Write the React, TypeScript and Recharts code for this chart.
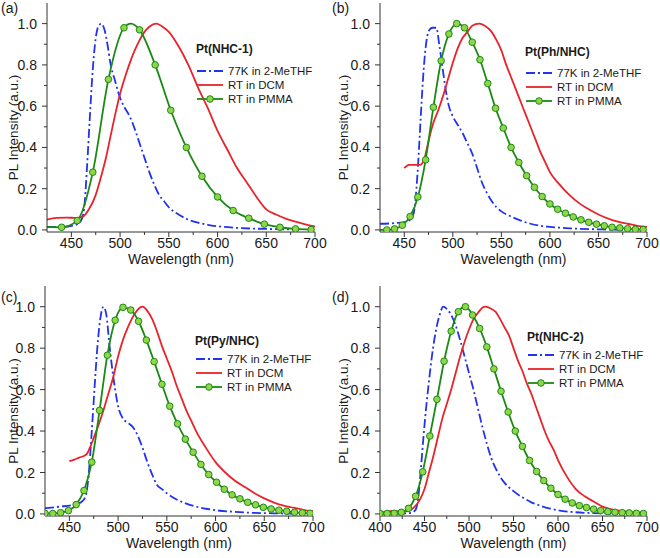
import React from 'react';
import { LineChart, Line, XAxis, YAxis } from 'recharts';

type Pt = [number, number];
type Row = { x: number; y: number; m?: boolean };

// (a) Pt(NHC-1)
const aLowT: Pt[] = [
  [425, 0.015], [440, 0.015], [450, 0.02], [456, 0.028], [460, 0.045], [463, 0.1], [466, 0.3],
  [469, 0.55], [472, 0.78], [475, 0.93], [478, 0.99], [481, 1.0], [484, 0.97], [487, 0.9],
  [490, 0.81], [495, 0.72], [500, 0.64], [505, 0.59], [510, 0.55], [515, 0.49], [520, 0.42],
  [525, 0.35], [530, 0.28], [535, 0.22], [540, 0.17], [545, 0.14], [550, 0.11], [560, 0.075],
  [570, 0.05], [580, 0.035], [590, 0.025], [600, 0.018], [620, 0.01], [640, 0.006], [660, 0.004], [680, 0.002],
];
const aDcm: Pt[] = [
  [425, 0.05], [435, 0.058], [445, 0.06], [455, 0.058], [462, 0.065], [468, 0.1], [475, 0.17],
  [480, 0.25], [485, 0.34], [490, 0.45], [495, 0.56], [500, 0.66], [505, 0.74], [510, 0.81],
  [515, 0.87], [520, 0.92], [525, 0.96], [530, 0.985], [537, 1.0], [545, 0.98], [550, 0.96],
  [560, 0.89], [570, 0.8], [580, 0.69], [590, 0.59], [600, 0.48], [610, 0.39], [620, 0.3],
  [630, 0.23], [640, 0.16], [650, 0.1], [660, 0.075], [670, 0.055], [680, 0.04], [690, 0.027], [700, 0.017],
];
const aPmmaMarks: Pt[] = [
  [440, 0.013], [456, 0.045], [472, 0.28], [488, 0.73], [504, 0.98], [520, 0.97], [536, 0.8],
  [552, 0.58], [568, 0.4], [584, 0.26], [600, 0.16], [616, 0.094], [632, 0.057], [648, 0.028],
  [664, 0.013], [680, 0.005], [696, 0.002],
];
const aPmmaExtra: Pt[] = [[425, 0.015], [511, 1.0]];

// (b) Pt(Ph/NHC)
const bLowT: Pt[] = [
  [425, 0.03], [440, 0.033], [452, 0.04], [458, 0.06], [461, 0.12], [464, 0.3], [467, 0.55],
  [470, 0.78], [473, 0.92], [476, 0.97], [479, 0.98], [483, 0.98], [486, 0.9], [489, 0.8],
  [492, 0.7], [496, 0.6], [500, 0.55], [505, 0.51], [510, 0.47], [515, 0.42], [520, 0.37],
  [525, 0.3], [530, 0.23], [535, 0.18], [540, 0.14], [545, 0.11], [550, 0.09], [560, 0.065],
  [570, 0.045], [580, 0.03], [590, 0.02], [600, 0.015], [620, 0.008], [640, 0.004], [660, 0.002], [680, 0],
];
const bDcm: Pt[] = [
  [450, 0.3], [455, 0.315], [460, 0.315], [465, 0.315], [468, 0.32], [471, 0.35], [474, 0.41],
  [477, 0.47], [480, 0.52], [485, 0.58], [490, 0.65], [495, 0.73], [500, 0.81], [505, 0.88],
  [510, 0.93], [515, 0.96], [520, 0.99], [527, 1.0], [533, 0.99], [540, 0.96], [545, 0.92],
  [550, 0.87], [555, 0.8], [560, 0.74], [565, 0.68], [570, 0.62], [575, 0.56], [580, 0.5],
  [585, 0.44], [590, 0.38], [595, 0.33], [600, 0.28], [610, 0.22], [620, 0.17], [630, 0.13],
  [640, 0.1], [650, 0.075], [660, 0.055], [670, 0.04], [680, 0.03], [690, 0.02], [700, 0.015],
];
const bPmmaMarks: Pt[] = [
  [432, 0.0], [440, 0.005], [448, 0.023], [456, 0.065], [464, 0.16], [472, 0.34], [480, 0.595],
  [488, 0.82], [496, 0.95], [504, 1.0], [512, 0.98], [520, 0.91], [528, 0.825], [536, 0.71],
  [544, 0.59], [552, 0.494], [560, 0.4], [568, 0.327], [576, 0.263], [584, 0.207], [592, 0.162],
  [600, 0.126], [608, 0.1], [616, 0.081], [624, 0.063], [632, 0.049], [640, 0.037], [648, 0.028],
  [656, 0.02], [664, 0.013], [672, 0.01], [680, 0.006], [688, 0.003], [696, 0.002],
];
const bPmmaExtra: Pt[] = [[425, 0.0]];

// (c) Pt(Py/NHC)
const cLowT: Pt[] = [
  [425, 0.028], [440, 0.035], [455, 0.045], [463, 0.06], [467, 0.09], [470, 0.2], [473, 0.4],
  [476, 0.62], [479, 0.82], [482, 0.95], [485, 1.0], [488, 0.96], [491, 0.82], [494, 0.7],
  [497, 0.6], [500, 0.52], [505, 0.46], [510, 0.44], [515, 0.42], [520, 0.38], [525, 0.32],
  [530, 0.25], [535, 0.19], [540, 0.14], [545, 0.12], [550, 0.1], [560, 0.07], [570, 0.05],
  [580, 0.035], [590, 0.025], [600, 0.018], [620, 0.01], [640, 0.005], [660, 0.003], [680, 0.001],
];
const cDcm: Pt[] = [
  [450, 0.255], [455, 0.262], [460, 0.272], [465, 0.28], [468, 0.29], [472, 0.33], [476, 0.38],
  [480, 0.43], [485, 0.5], [490, 0.58], [495, 0.66], [500, 0.76], [505, 0.84], [510, 0.9],
  [515, 0.95], [520, 0.985], [525, 1.0], [530, 0.98], [535, 0.94], [540, 0.88], [545, 0.81],
  [550, 0.75], [555, 0.69], [560, 0.62], [565, 0.56], [570, 0.5], [575, 0.45], [580, 0.4],
  [590, 0.32], [600, 0.25], [610, 0.2], [620, 0.16], [630, 0.13], [640, 0.1], [650, 0.075],
  [660, 0.055], [670, 0.04], [680, 0.03], [690, 0.02], [700, 0.013],
];
const cPmmaMarks: Pt[] = [
  [425, 0.003], [433, 0.002], [441, 0.006], [449, 0.016], [457, 0.045], [465, 0.113], [473, 0.25],
  [481, 0.5], [489, 0.766], [497, 0.935], [505, 0.997], [513, 0.984], [521, 0.93], [529, 0.839],
  [537, 0.735], [545, 0.626], [553, 0.52], [561, 0.435], [569, 0.361], [577, 0.298], [585, 0.239],
  [593, 0.19], [601, 0.153], [609, 0.119], [617, 0.092], [625, 0.073], [633, 0.056], [641, 0.044],
  [649, 0.032], [657, 0.024], [665, 0.018], [673, 0.013], [681, 0.008], [689, 0.005], [697, 0.003],
];

// (d) Pt(NHC-2)
const dLowT: Pt[] = [
  [400, 0.002], [420, 0.002], [435, 0.005], [440, 0.02], [443, 0.08], [446, 0.22], [449, 0.38],
  [452, 0.52], [455, 0.64], [458, 0.75], [461, 0.84], [464, 0.91], [467, 0.96], [471, 1.0],
  [475, 0.99], [480, 0.96], [485, 0.91], [490, 0.84], [495, 0.76], [500, 0.68], [505, 0.6],
  [510, 0.51], [515, 0.42], [520, 0.34], [525, 0.27], [530, 0.22], [535, 0.18], [540, 0.15],
  [550, 0.11], [560, 0.08], [570, 0.056], [580, 0.04], [590, 0.027], [600, 0.018], [620, 0.008],
  [640, 0.004], [660, 0.002],
];
const dDcm: Pt[] = [
  [400, 0.005], [410, 0.013], [418, 0.015], [425, 0.01], [432, 0.015], [438, 0.03], [445, 0.07],
  [450, 0.12], [455, 0.2], [460, 0.28], [465, 0.37], [470, 0.46], [475, 0.53], [480, 0.6],
  [485, 0.68], [490, 0.76], [495, 0.83], [500, 0.89], [505, 0.94], [510, 0.97], [515, 0.995],
  [518, 1.0], [525, 0.99], [530, 0.975], [535, 0.94], [540, 0.9], [545, 0.86], [550, 0.8],
  [555, 0.74], [560, 0.69], [565, 0.63], [570, 0.58], [575, 0.52], [580, 0.46], [585, 0.4],
  [590, 0.35], [595, 0.31], [600, 0.26], [610, 0.18], [620, 0.12], [630, 0.085], [640, 0.06],
  [650, 0.035], [660, 0.022], [670, 0.015], [680, 0.01], [690, 0.007], [700, 0.005],
];
const dPmmaMarks: Pt[] = [
  [400, 0.002], [408, 0.002], [416, 0.003], [424, 0.008], [432, 0.027], [440, 0.085], [448, 0.203],
  [456, 0.376], [464, 0.553], [472, 0.737], [480, 0.882], [488, 0.976], [496, 1.0], [504, 0.96],
  [512, 0.895], [520, 0.806], [528, 0.7], [536, 0.592], [544, 0.492], [552, 0.4], [560, 0.326],
  [568, 0.258], [576, 0.205], [584, 0.161], [592, 0.124], [600, 0.094], [608, 0.071], [616, 0.053],
  [624, 0.04], [632, 0.031], [640, 0.023], [648, 0.016], [656, 0.011], [664, 0.008], [672, 0.006],
  [680, 0.005], [688, 0.003], [696, 0.002],
];

const SERIES_NAMES = ['77K in 2-MeTHF', 'RT in DCM', 'RT in PMMA'];
const Y_TICKS = [0, 0.1, 0.2, 0.3, 0.4, 0.5, 0.6, 0.7, 0.8, 0.9, 1.0];
const X_TICKS_425 = [450, 475, 500, 525, 550, 575, 600, 625, 650, 675, 700];
const X_TICKS_400 = [400, 425, 450, 475, 500, 525, 550, 575, 600, 625, 650, 675, 700];

const BLUE = '#2233ee';
const RED = '#e8232a';
const GREEN = '#1b8a14';
const MARK_FILL = '#8fd64a';
const AXIS = '#333';
const TEXT = '#1a1a1a';
const DASH = '9 3 2 3';
const LW = 1.8;

const rows = (pts: Pt[]): Row[] => pts.map(([x, y]) => ({ x, y }));
const pmmaRows = (marks: Pt[], extra: Pt[] = []): Row[] =>
  [...marks.map(([x, y]) => ({ x, y, m: true })), ...extra.map(([x, y]) => ({ x, y, m: false }))]
    .sort((a, b) => a.x - b.x);

const renderXTick = (p: any) => {
  const { x, y, payload } = p;
  const v = payload.value as number;
  const major = v % 50 === 0;
  const ay = y - 8; // tickSize 5 + tickMargin 3
  return (
    <g>
      <line x1={x} x2={x} y1={ay} y2={ay + (major ? 5 : 3)} stroke={AXIS} />
      {major && (
        <text x={x} y={ay + 16} textAnchor="middle" fontSize={14} fill={TEXT}>{v}</text>
      )}
    </g>
  );
};

const renderYTick = (p: any) => {
  const { x, y, payload } = p;
  const v = payload.value as number;
  const major = Math.round(v * 10) % 2 === 0;
  const ax = x + 8;
  return (
    <g>
      <line x1={ax} x2={ax - (major ? 5 : 3)} y1={y} y2={y} stroke={AXIS} />
      {major && (
        <text x={ax - 10} y={y} dy="0.36em" textAnchor="end" fontSize={14} fill={TEXT}>{v.toFixed(1)}</text>
      )}
    </g>
  );
};

// axis titles, placed in the chart's own pixel space
const xTitle = (cx: number, y: number) => () => (
  <text x={cx} y={y} textAnchor="middle" fontSize={14} fill={TEXT}>Wavelength (nm)</text>
);

const yTitle = (cx: number) => (props: any) => {
  const vb = props.viewBox;
  const y = vb.y + vb.height / 2 + 10;
  return (
    <text x={cx} y={y} transform={`rotate(-90, ${cx}, ${y})`} textAnchor="middle" dy="0.35em" fontSize={13.5} fill={TEXT}>
      PL Intensity (a.u.)
    </text>
  );
};

const markerDot = (p: any) => {
  const { cx, cy, payload, index } = p;
  if (!payload || !payload.m) return <g key={`n${index}`} />;
  return <circle key={`m${index}`} cx={cx} cy={cy} r={3.3} fill={MARK_FILL} stroke={GREEN} strokeWidth={1} />;
};

interface PanelProps {
  left: number;
  top: number;
  margin: { top: number; right: number; bottom: number; left: number };
  yAxisWidth: number;
  xAxisHeight: number;
  xTitleGap: number;
  xDomain: [number, number];
  xTicks: number[];
  yTitleX: number;
  lowT: Pt[];
  dcm: Pt[];
  pmma: Row[];
}

function Panel(p: PanelProps) {
  const plotLeft = p.margin.left + p.yAxisWidth;
  const plotRight = 330 - p.margin.right;
  const plotBottom = 279 - p.margin.bottom - p.xAxisHeight;
  return (
    <div style={{ position: 'absolute', left: p.left, top: p.top }}>
      <LineChart width={330} height={279} margin={p.margin}>
        <XAxis
          dataKey="x" type="number" domain={p.xDomain} ticks={p.xTicks} interval={0} allowDataOverflow
          tick={renderXTick} tickLine={false} tickSize={5} tickMargin={3} height={p.xAxisHeight}
          axisLine={{ stroke: AXIS }} label={xTitle((plotLeft + plotRight) / 2, plotBottom + p.xTitleGap)}
        />
        <XAxis xAxisId="top" orientation="top" type="number" domain={p.xDomain} height={0}
          tick={false} tickLine={false} axisLine={{ stroke: AXIS }} />
        <YAxis
          type="number" domain={[-0.01, 1.1]} ticks={Y_TICKS} interval={0} allowDataOverflow
          tick={renderYTick} tickLine={false} tickSize={5} tickMargin={3} width={p.yAxisWidth}
          axisLine={{ stroke: AXIS }} label={yTitle(p.yTitleX)}
        />
        <YAxis yAxisId="right" orientation="right" type="number" domain={[-0.01, 1.1]} width={0}
          tick={false} tickLine={false} axisLine={{ stroke: AXIS }} />
        <Line data={rows(p.lowT)} dataKey="y" type="monotone" stroke={BLUE} strokeWidth={LW}
          strokeDasharray={DASH} dot={false} isAnimationActive={false} />
        <Line data={rows(p.dcm)} dataKey="y" type="monotone" stroke={RED} strokeWidth={LW}
          dot={false} isAnimationActive={false} />
        <Line data={p.pmma} dataKey="y" type="monotone" stroke={GREEN} strokeWidth={LW}
          dot={markerDot} isAnimationActive={false} />
      </LineChart>
    </div>
  );
}

function PanelLegend({ x, y, first, title }: { x: number; y: number; first: number; title: string }) {
  const cy = (i: number) => y + first + i * 14;
  return (
    <g>
      <text x={x} y={y} dy="0.35em" fontSize={12} fontWeight="bold" fill={TEXT}>{title}</text>
      {SERIES_NAMES.map((name, i) => (
        <g key={name}>
          <line x1={x + 1} x2={x + 27} y1={cy(i)} y2={cy(i)} strokeWidth={LW}
            stroke={[BLUE, RED, GREEN][i]} strokeDasharray={i === 0 ? DASH : undefined} />
          {i === 2 && <circle cx={x + 14} cy={cy(i)} r={3.3} fill={MARK_FILL} stroke={GREEN} />}
          <text x={x + 32} y={cy(i)} dy="0.35em" fontSize={11.5} fill={TEXT}>{name}</text>
        </g>
      ))}
    </g>
  );
}

export default function App() {
  return (
    <div style={{ position: 'absolute', left: 0, top: 0, width: 660, height: 558, background: '#fff',
      fontFamily: "'Liberation Sans', Arial, Helvetica, sans-serif" }}>
      <Panel left={0} top={0} margin={{ top: 3, right: 15, bottom: 0, left: 0 }} yAxisWidth={47} xAxisHeight={47}
        xTitleGap={32} xDomain={[425, 700]} xTicks={X_TICKS_425} yTitleX={13}
        lowT={aLowT} dcm={aDcm} pmma={pmmaRows(aPmmaMarks, aPmmaExtra)} />
      <Panel left={330} top={0} margin={{ top: 3, right: 13, bottom: 0, left: 0 }} yAxisWidth={50} xAxisHeight={47}
        xTitleGap={32} xDomain={[425, 700]} xTicks={X_TICKS_425} yTitleX={13}
        lowT={bLowT} dcm={bDcm} pmma={pmmaRows(bPmmaMarks, bPmmaExtra)} />
      <Panel left={0} top={279} margin={{ top: 7, right: 17, bottom: 0, left: 0 }} yAxisWidth={45} xAxisHeight={42}
        xTitleGap={32} xDomain={[425, 700]} xTicks={X_TICKS_425} yTitleX={13}
        lowT={cLowT} dcm={cDcm} pmma={pmmaRows(cPmmaMarks)} />
      <Panel left={330} top={279} margin={{ top: 7, right: 13, bottom: 0, left: 0 }} yAxisWidth={50} xAxisHeight={42}
        xTitleGap={32} xDomain={[400, 700]} xTicks={X_TICKS_400} yTitleX={13}
        lowT={dLowT} dcm={dDcm} pmma={pmmaRows(dPmmaMarks)} />
      <svg width={660} height={558} style={{ position: 'absolute', left: 0, top: 0, pointerEvents: 'none' }}>
        <g fontSize={14} fill={TEXT}>
          <text x={1} y={13}>(a)</text>
          <text x={332} y={13}>(b)</text>
          <text x={1} y={302}>(c)</text>
          <text x={332} y={302}>(d)</text>
        </g>
        <PanelLegend x={196} y={49} first={22} title="Pt(NHC-1)" />
        <PanelLegend x={525} y={52} first={21} title="Pt(Ph/NHC)" />
        <PanelLegend x={195} y={341} first={18} title="Pt(Py/NHC)" />
        <PanelLegend x={527} y={337} first={18} title="Pt(NHC-2)" />
      </svg>
    </div>
  );
}
